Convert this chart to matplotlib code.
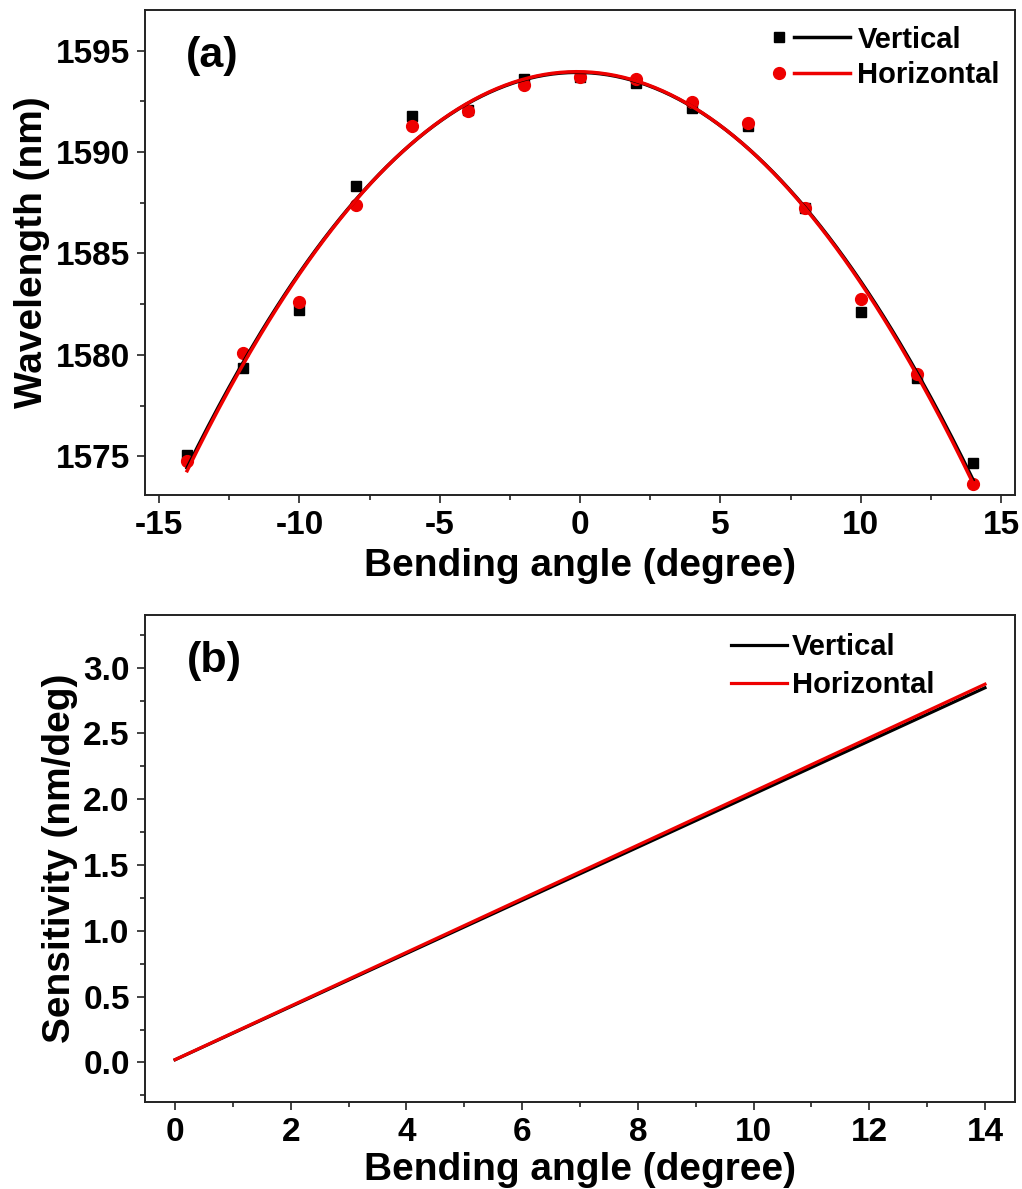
import numpy as np
import matplotlib
matplotlib.use("Agg")
import matplotlib.pyplot as plt
from matplotlib.lines import Line2D
from matplotlib.legend_handler import HandlerBase
from matplotlib.ticker import MultipleLocator, FormatStrFormatter

# Measured resonance wavelength versus bending angle
angles = [-14, -12, -10, -8, -6, -4, -2, 0, 2, 4, 6, 8, 10, 12, 14]
wl_vertical = [1575.05, 1579.37, 1582.22, 1588.32, 1591.76, 1592.05, 1593.62,
               1593.70, 1593.38, 1592.15, 1591.27, 1587.24, 1582.13, 1578.88, 1574.70]
wl_horizontal = [1574.75, 1580.10, 1582.60, 1587.38, 1591.27, 1592.00, 1593.28,
                 1593.70, 1593.62, 1592.45, 1591.42, 1587.24, 1582.76, 1579.08, 1573.62]

series_names = ["Vertical", "Horizontal"]
xlabel = "Bending angle (degree)"
ylabel_a = "Wavelength (nm)"
ylabel_b = "Sensitivity (nm/deg)"

plt.rcParams["font.family"] = ["Liberation Sans", "DejaVu Sans"]
plt.rcParams["font.weight"] = "bold"
plt.rcParams["axes.unicode_minus"] = False

RED = "#ee0000"
BLACK = "#000000"

# Quadratic fits and their slopes
x = np.asarray(angles, dtype=float)
fit_v = np.polyfit(x, wl_vertical, 2)
fit_h = np.polyfit(x, wl_horizontal, 2)
xf = np.linspace(x.min(), x.max(), 300)
xs = np.linspace(0, 14, 100)
sens_v = np.abs(np.polyval(np.polyder(fit_v), xs))
sens_h = np.abs(np.polyval(np.polyder(fit_h), xs))


class MarkerThenLine(HandlerBase):
    """Legend entry drawn as a marker followed by a short line."""
    def create_artists(self, legend, orig_handle, xdescent, ydescent,
                       width, height, fontsize, trans):
        mk, ln = orig_handle
        y = height / 2 - ydescent
        m = Line2D([-xdescent + width * 0.1], [y])
        m.update_from(mk)
        m.set_linestyle("none")
        l = Line2D([-xdescent + width * 0.29, -xdescent + width], [y, y])
        l.update_from(ln)
        l.set_marker("")
        for a in (m, l):
            a.set_transform(trans)
        return [m, l]


fig = plt.figure(figsize=(10.22, 11.89), dpi=100)
ax1 = fig.add_axes([0.1419, 0.5837, 0.8513, 0.4079])
ax2 = fig.add_axes([0.1419, 0.0732, 0.8513, 0.4096])


def style_axes(ax):
    for s in ax.spines.values():
        s.set_linewidth(1.4)
        s.set_color("#222222")
    ax.tick_params(which="both", direction="out", top=False, right=False,
                   width=1.2, color="#222222")
    ax.tick_params(which="major", length=6, labelsize=24, pad=5)
    ax.tick_params(which="minor", length=3.5)


# Panel (a)
ms_v, = ax1.plot(x, wl_vertical, "s", color=BLACK, ms=7.5, zorder=3)
ms_h, = ax1.plot(x, wl_horizontal, "o", color=RED, ms=8.5, zorder=3)
ln_v, = ax1.plot(xf, np.polyval(fit_v, xf), "-", color=BLACK, lw=2.5, zorder=4)
ln_h, = ax1.plot(xf, np.polyval(fit_h, xf), "-", color=RED, lw=2.5, zorder=5)
ax1.set_xlim(-15.5, 15.5)
ax1.set_ylim(1573.1, 1597.0)
ax1.xaxis.set_major_locator(MultipleLocator(5))
ax1.xaxis.set_minor_locator(MultipleLocator(2.5))
ax1.yaxis.set_major_locator(MultipleLocator(5))
ax1.yaxis.set_minor_locator(MultipleLocator(2.5))
style_axes(ax1)
ax1.set_xlabel(xlabel, fontsize=28, fontweight="bold", labelpad=5)
ax1.set_ylabel(ylabel_a, fontsize=28, fontweight="bold", labelpad=4)
ax1.text(0.047, 0.905, "(a)", transform=ax1.transAxes, fontsize=31,
         fontweight="bold", va="center", ha="left")
ax1.legend([(ms_v, ln_v), (ms_h, ln_h)], series_names,
           handler_map={tuple: MarkerThenLine()},
           loc="upper left", bbox_to_anchor=(0.72, 0.968), frameon=False,
           fontsize=21, handlelength=2.7, handletextpad=0.25,
           labelspacing=0.25, borderpad=0, borderaxespad=0)

# Panel (b)
ax2.plot(xs, sens_v, "-", color=BLACK, lw=2.3, label=series_names[0])
ax2.plot(xs, sens_h, "-", color=RED, lw=2.3, label=series_names[1])
ax2.set_xlim(-0.52, 14.52)
ax2.set_ylim(-0.30, 3.40)
ax2.xaxis.set_major_locator(MultipleLocator(2))
ax2.xaxis.set_minor_locator(MultipleLocator(1))
ax2.yaxis.set_major_locator(MultipleLocator(0.5))
ax2.yaxis.set_minor_locator(MultipleLocator(0.25))
ax2.yaxis.set_major_formatter(FormatStrFormatter("%.1f"))
style_axes(ax2)
ax2.set_xlabel(xlabel, fontsize=28, fontweight="bold", labelpad=3)
ax2.set_ylabel(ylabel_b, fontsize=28, fontweight="bold", labelpad=4)
ax2.text(0.048, 0.906, "(b)", transform=ax2.transAxes, fontsize=31,
         fontweight="bold", va="center", ha="left")
ax2.legend(loc="upper left", bbox_to_anchor=(0.674, 0.962), frameon=False,
           fontsize=21, handlelength=1.9, handletextpad=0.18,
           labelspacing=0.33, borderpad=0, borderaxespad=0)

fig.savefig("out.png", dpi=100)
